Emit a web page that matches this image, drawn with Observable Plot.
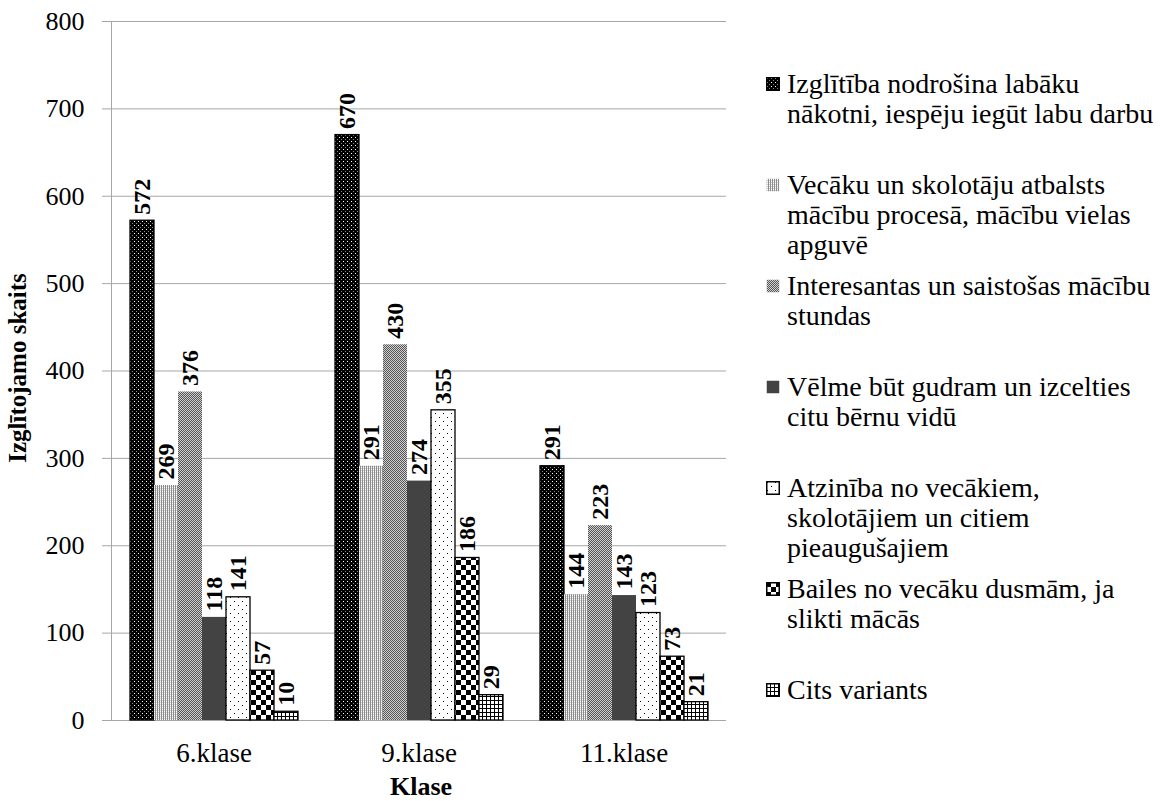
<!DOCTYPE html>
<html><head><meta charset="utf-8">
<script src="https://cdn.jsdelivr.net/npm/d3@7"></script>
<script src="https://cdn.jsdelivr.net/npm/@observablehq/plot@0.6"></script>
<style>
body{margin:0;background:#fff;}
#wrap{position:relative;width:1164px;height:801px;overflow:hidden;font-family:"Liberation Serif","Tinos","DejaVu Serif","Times New Roman",serif;color:#000;}
#legend{position:absolute;left:766px;top:0;}
.item{position:absolute;left:0;display:flex;align-items:flex-start;font-size:28px;line-height:30px;width:396px;}
.item svg{flex:none;margin-top:8px;margin-right:7px;}
.ytitle{position:absolute;left:17px;top:368px;transform:translate(-50%,-50%) rotate(-90deg);white-space:nowrap;font-weight:bold;font-size:25px;line-height:1;}
.xtitle{position:absolute;left:421px;top:774px;transform:translateX(-50%);font-weight:bold;font-size:26px;line-height:1;white-space:nowrap;}
svg text{font-family:"Liberation Serif","Tinos","DejaVu Serif","Times New Roman",serif;}
</style></head><body><div id="wrap"></div>
<script>
// ---- data ----
const classes = ["6.klase", "9.klase", "11.klase"];
const series = [
  "Izglītība nodrošina labāku nākotni, iespēju iegūt labu darbu",
  "Vecāku un skolotāju atbalsts mācību procesā, mācību vielas apguvē",
  "Interesantas un saistošas mācību stundas",
  "Vēlme būt gudram un izcelties citu bērnu vidū",
  "Atzinība no vecākiem, skolotājiem un citiem pieaugušajiem",
  "Bailes no vecāku dusmām, ja slikti mācās",
  "Cits variants"
];
const values6 = [572, 269, 376, 118, 141, 57, 10];
const values9 = [670, 291, 430, 274, 355, 186, 29];
const values11 = [291, 144, 223, 143, 123, 73, 21];
const yTicks = [0, 100, 200, 300, 400, 500, 600, 700, 800];
const yTitle = "Izglītojamo skaits";
const xTitle = "Klase";

// ---- styles (fill patterns, outlines) ----
const fontStack = '"Liberation Serif","Tinos","DejaVu Serif","Times New Roman",serif';
const patternStyles = [
  {size: [4, 4], bg: "#000", px: [[1, 1, 1, 1, "#fff"], [3, 3, 1, 1, "#8a8a8a"]]},
  {size: [2, 2], bg: "#d2d2d2", px: [[0, 0, 1, 2, "#8c8c8c"], [1, 1, 1, 1, "#ffffff"]]},
  {size: [2, 2], bg: "#d0d0d0", px: [[0, 0, 1, 1, "#555"], [1, 1, 1, 1, "#555"]]},
  {size: [4, 4], bg: "#434343", px: []},
  {size: [8, 8], bg: "#fff", px: [[1, 1, 1, 1, "#000"], [5, 5, 1, 1, "#000"]]},
  {size: [10, 10], bg: "#fff", px: [[0, 0, 5, 5, "#000"], [5, 5, 5, 5, "#000"]]},
  {size: [4, 4], bg: "#fff", px: [[0, 0, 4, 1, "#000"], [0, 0, 1, 4, "#000"]]}
];
const outlines = ["#000", "none", "none", "none", "#000", "#000", "#000"];

const perClass = [values6, values9, values11];
const data = classes.flatMap((c, ci) => series.map((s, si) => ({cls: c, series: s, si, value: perClass[ci][si]})));

// pattern defs
const defs = d3.select("#wrap").append("svg")
  .attr("width", 0).attr("height", 0).style("position", "absolute")
  .append("defs");
patternStyles.forEach((p, i) => {
  const pat = defs.append("pattern").attr("id", "pat" + i)
    .attr("patternUnits", "userSpaceOnUse")
    .attr("width", p.size[0]).attr("height", p.size[1]);
  pat.append("rect").attr("width", p.size[0]).attr("height", p.size[1]).attr("fill", p.bg);
  p.px.forEach(([x, y, w, h, f]) => pat.append("rect").attr("x", x).attr("y", y).attr("width", w).attr("height", h).attr("fill", f));
});

const chart = Plot.plot({
  width: 1164, height: 801,
  marginLeft: 110, marginRight: 437, marginTop: 21, marginBottom: 81,
  style: {fontFamily: fontStack, background: "transparent", color: "#000", overflow: "visible"},
  fx: {domain: classes, paddingInner: 0, paddingOuter: 0},
  x: {domain: series, paddingInner: 0, paddingOuter: 0.71, axis: null},
  y: {domain: [0, 800]},
  marks: [
    Plot.gridY(yTicks, {stroke: "#a6a6a6", strokeOpacity: 1}),
    Plot.frame({anchor: "left", facetAnchor: "left", stroke: "#a6a6a6"}),
    Plot.ruleY([0], {stroke: "#a6a6a6"}),
    Plot.axisY(yTicks, {tickSize: 9, tickPadding: 18, fontSize: 26, stroke: "#a6a6a6", fill: "#000", label: null}),
    Plot.axisFx({anchor: "bottom", tickSize: 0, tickPadding: 22, fontSize: 27, fill: "#000", label: null}),
    Plot.barY(data, {
      fx: "cls", x: "series", y: "value",
      fill: {value: d => `url(#pat${d.si})`, scale: null},
      stroke: {value: d => outlines[d.si], scale: null},
      strokeWidth: 1.3
    }),
    Plot.text(data, {
      fx: "cls", x: "series", y: "value", text: d => String(d.value),
      rotate: -90, textAnchor: "start", lineAnchor: "middle", dy: -6,
      fontWeight: "bold", fontSize: 24, fill: "#000"
    })
  ]
});
document.getElementById("wrap").appendChild(chart);

// axis titles
d3.select("#wrap").append("div").attr("class", "ytitle").text(yTitle);
d3.select("#wrap").append("div").attr("class", "xtitle").text(xTitle);

// legend
const legendTop = 84, legendStep = 101;
const legend = d3.select("#wrap").append("div").attr("id", "legend");
series.forEach((s, i) => {
  const item = legend.append("div").attr("class", "item").style("top", (legendTop + i * legendStep - 15) + "px");
  const sw = item.append("svg").attr("width", 14).attr("height", 14);
  sw.append("rect").attr("x", 0.75).attr("y", 0.75).attr("width", 12.5).attr("height", 12.5)
    .attr("fill", `url(#pat${i})`).attr("stroke", outlines[i]).attr("stroke-width", 1.5);
  item.append("span").text(s);
});
</script></body></html>
